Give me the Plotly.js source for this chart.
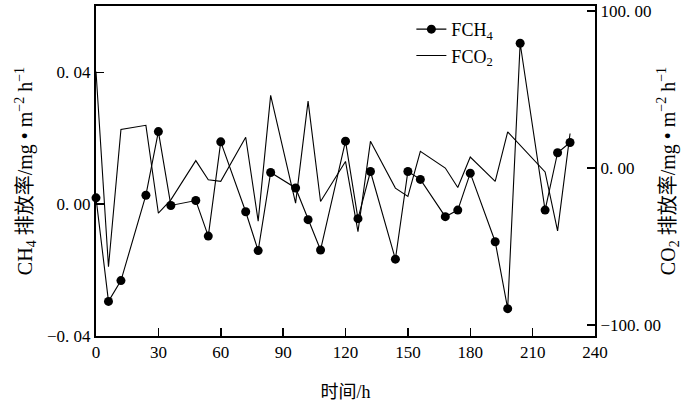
<!DOCTYPE html>
<html>
<head>
<meta charset="utf-8">
<script src="https://cdn.plot.ly/plotly-3.0.1.min.js"></script>
<style>html,body{margin:0;padding:0;background:#fff;}#chart{width:682px;height:406px;}</style>
</head>
<body>
<div id="chart"></div>
<script>
// Time (h)
var timeCH4 = [0, 6, 12, 24, 30, 36, 48, 54, 60, 72, 78, 84, 96, 102, 108, 120, 126, 132, 144, 150, 156, 168, 174, 180, 192, 198, 204, 216, 222, 228];
// CH4 flux (mg m-2 h-1)
var fluxCH4 = [0.0019, -0.0295, -0.0232, 0.0027, 0.0220, -0.0004, 0.0011, -0.0097, 0.0189, -0.0023, -0.0141, 0.0096, 0.0049, -0.0047, -0.0139, 0.0191, -0.0044, 0.0099, -0.0167, 0.0099, 0.0075, -0.0038, -0.0018, 0.0094, -0.0114, -0.0317, 0.0488, -0.0018, 0.0156, 0.0187];
// Time (h)
var timeCO2 = [0, 6, 12, 24, 30, 36, 48, 54, 60, 72, 78, 84, 96, 102, 108, 120, 126, 132, 144, 150, 156, 168, 174, 180, 192, 198, 216, 222, 228];
// CO2 flux (mg m-2 h-1)
var fluxCO2 = [61.5, -62.9, 24.5, 27.2, -28.8, -20.3, 4.7, -7.5, -8.5, 19.6, -33.8, 46.3, -22.4, 42.6, -21.3, 4.2, -40.5, 17.0, -12.8, -18.1, 10.6, 0.0, -12.4, 7.0, -8.5, 23.0, -2.5, -40.0, 22.0];

var xTicks = [0, 30, 60, 90, 120, 150, 180, 210, 240];
var leftTickVals = [-0.04, 0, 0.04];
var leftTickText = ["\u22120. 04", "0. 00", "0. 04"];
var rightTickVals = [-100, 0, 100];
var rightTickText = ["\u2212100. 00", "0. 00", "100. 00"];

var serif = "Liberation Serif, Times New Roman, Noto Sans CJK SC, serif";

var traces = [
  {
    x: timeCH4, y: fluxCH4, name: "FCH<sub>4</sub>", type: "scatter", mode: "lines+markers",
    line: {color: "#000", width: 1.1},
    marker: {color: "#000", size: 9, symbol: "circle"},
    cliponaxis: false, yaxis: "y"
  },
  {
    x: timeCO2, y: fluxCO2, name: "FCO<sub>2</sub>", type: "scatter", mode: "lines+markers",
    line: {color: "#000", width: 1.1},
    marker: {color: "rgba(0,0,0,0)", size: 7, symbol: "circle-open", line: {color: "#9a9a9a", width: 1}},
    cliponaxis: false, yaxis: "y2"
  }
];

var layout = {
  width: 682, height: 406,
  margin: {l: 96, r: 87, t: 6, b: 70},
  paper_bgcolor: "#fff", plot_bgcolor: "#fff",
  font: {family: serif, color: "#000", size: 17},
  showlegend: true,
  legend: {x: 0.632, y: 0.985, xanchor: "left", yanchor: "top", bgcolor: "rgba(0,0,0,0)",
           font: {family: serif, size: 18, color: "#000"}, borderwidth: 0},
  xaxis: {
    range: [0, 240], tickvals: xTicks, ticktext: xTicks.map(String),
    ticks: "inside", ticklen: 8, tickwidth: 1.5, tickcolor: "#000",
    showline: true, linecolor: "#000", linewidth: 2, mirror: true,
    showgrid: false, zeroline: false,
    tickfont: {family: serif, size: 17},
    title: {text: "时间/h", font: {family: serif, size: 18}, standoff: 24}
  },
  yaxis: {
    range: [-0.04, 0.0601], tickvals: leftTickVals, ticktext: leftTickText,
    ticks: "inside", ticklen: 8, tickwidth: 1.5, tickcolor: "#000",
    showline: true, linecolor: "#000", linewidth: 2, mirror: true,
    showgrid: false, zeroline: false,
    tickfont: {family: serif, size: 17},
    title: {text: "CH<sub>4</sub> 排放率/mg • m<sup>−2</sup> h<sup>−1</sup>", font: {family: serif, size: 20}, standoff: 9}
  },
  yaxis2: {
    range: [-107, 103.2], tickvals: rightTickVals, ticktext: rightTickText,
    overlaying: "y", side: "right",
    ticks: "inside", ticklen: 8, tickwidth: 1.5, tickcolor: "#000",
    showline: true, linecolor: "#000", linewidth: 2,
    showgrid: false, zeroline: false,
    tickfont: {family: serif, size: 17},
    title: {text: "CO<sub>2</sub> 排放率/mg • m<sup>−2</sup> h<sup>−1</sup>", font: {family: serif, size: 20}, standoff: 4}
  }
};

Plotly.newPlot("chart", traces, layout, {staticPlot: true, displayModeBar: false});
</script>
</body>
</html>
